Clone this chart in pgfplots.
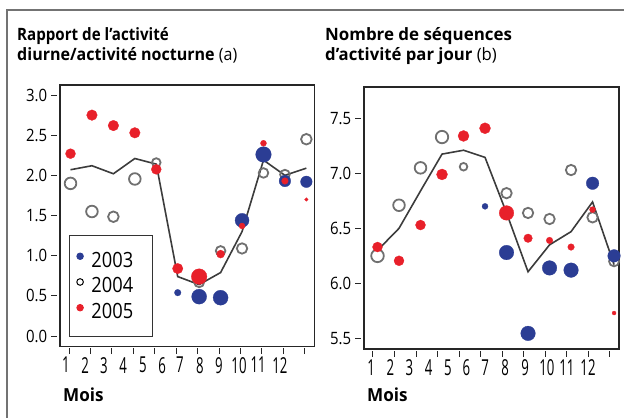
\documentclass[border=0pt]{standalone}
\usepackage{fontspec}
\setmainfont[FakeStretch=0.95]{Open Sans}
\newfontfamily\ttlA[FakeStretch=0.89]{Open Sans}
\newfontfamily\ttlB[FakeStretch=0.944]{Open Sans}
\newfontfamily\ttlC[FakeStretch=0.995]{Open Sans}
\newfontfamily\ttlD[FakeStretch=0.983]{Open Sans}
\newfontfamily\tickfont[FakeStretch=0.88]{Open Sans}
\newfontfamily\xfont[FakeStretch=0.6]{Open Sans}
\newfontfamily\legfont[FakeStretch=0.87]{Open Sans}
\usepackage{pgfplots}
\usepackage{pgfplotstable}
\pgfplotsset{compat=1.18}

\definecolor{cblue}{HTML}{2B3D94}
\definecolor{cred}{HTML}{E8202A}
\definecolor{cring}{HTML}{707070}
\definecolor{cline}{HTML}{3C3C3C}

\newcommand\legtxt[1]{\legfont\fontsize{21bp}{21bp}\selectfont\makebox[54bp][l]{#1}}

% (a) rapport diurne / nocturne
\pgfplotstableread{
x y s
6 0.54 3.3
7 0.49 7.5
8 0.477 7.5
9 1.44 7
10 2.26 7.8
11 1.93 5.8
12 1.92 5.8
}\atrois
\pgfplotstableread{
x y s
1 1.90 5.8
2 1.55 5.8
3 1.485 5.3
4 1.955 5.8
5 2.16 4.3
7 0.67 5
8 1.06 4.8
9 1.09 5.2
10 2.03 4.8
11 2.01 4.8
12 2.45 5.3
}\aquatre
\pgfplotstableread{
x y s
1 2.27 5
2 2.75 5.3
3 2.62 5.3
4 2.53 5.3
5 2.075 5
6 0.84 5.2
7 0.74 7.8
8 1.02 4
9 1.37 3
10 2.40 3
11 1.93 3.3
12 1.70 1.8
}\acinq
\pgfplotstableread{
x y
1 2.07
2 2.12
3 2.02
4 2.21
5 2.14
6 0.74
7 0.64
8 0.79
9 1.30
10 2.19
11 2.00
12 2.09
}\amoy

% (b) sequences par jour
\pgfplotstableread{
x y s
6 6.70 3
7 6.28 7.3
8 5.545 7.3
9 6.14 7.3
10 6.12 7.3
11 6.91 6.3
12 6.25 6.3
}\btrois
\pgfplotstableread{
x y s
1 6.25 6.3
2 6.71 5.8
3 7.05 5.8
4 7.33 6.2
5 7.06 3.8
7 6.82 5.2
8 6.64 5.2
9 6.585 5.2
10 7.03 5.2
11 6.60 5.2
12 6.20 5
}\bquatre
\pgfplotstableread{
x y s
1 6.33 5
2 6.205 5
3 6.53 5
4 6.99 5.5
5 7.34 5.5
6 7.41 5.5
7 6.64 7.3
8 6.41 4.3
9 6.39 3.3
10 6.33 3.3
11 6.67 3
12 5.73 2
}\bcinq
\pgfplotstableread{
x y
1 6.30
2 6.50
3 6.84
4 7.175
5 7.21
6 7.145
7 6.64
8 6.105
9 6.35
10 6.47
11 6.74
12 6.17
}\bmoy

\pgfplotsset{
  panel/.style={
    scale only axis,
    anchor=south west,
    clip=false,
    axis line style={line width=1.1bp, black!85},
    tick align=outside,
    tick pos=left,
    major tick length=6bp,
    tick style={line width=1bp, black!85},
    ytick style={xshift=-3bp},
    xtick style={yshift=-1.5bp},
    xticklabels={},
    yticklabel style={font=\tickfont\fontsize{17bp}{17bp}\selectfont, xshift=-3.3bp},
    extra x tick style={major tick length=0pt,
      tick label style={font=\xfont\fontsize{22bp}{22bp}\selectfont, yshift=-7bp}},
    extra x tick labels={1,2,3,4,5,6,7,8,9,10,11,12},
  },
  bub/.style={scatter, only marks,
    visualization depends on={\thisrow{s}\as\perpointmarksize},
    scatter/@pre marker code/.code={\scope[mark size=\perpointmarksize bp]},
    scatter/@post marker code/.code={\endscope}},
  blue dots/.style={bub, mark=*, cblue, line width=0.3bp},
  open dots/.style={bub, mark=o, cring, line width=1.8bp},
  red dots/.style={bub, mark=*, cred, line width=0.3bp},
  moy/.style={cline, line width=1.6bp, no marks},
}

\begin{document}
\begin{tikzpicture}
\draw[black!55, line width=1.2bp] (7bp,-418bp) -- (7bp,-10bp) -- (624bp,-10bp);

\node[anchor=base west, inner sep=0pt, font=\ttlA\fontsize{17bp}{20bp}\selectfont\bfseries] at (17bp,-40bp) {Rapport de l’activité};
\node[anchor=base west, inner sep=0pt, font=\ttlB\fontsize{17bp}{20bp}\selectfont] at (17bp,-60bp) {\textbf{diurne/activité nocturne} (a)};
\node[anchor=base west, inner sep=0pt, font=\ttlC\fontsize{17bp}{20bp}\selectfont\bfseries] at (325bp,-40bp) {Nombre de séquences};
\node[anchor=base west, inner sep=0pt, font=\ttlD\fontsize{17bp}{20bp}\selectfont] at (325bp,-60bp) {\textbf{d’activité par jour} (b)};
\node[anchor=base west, inner sep=0pt, font=\fontsize{18bp}{20bp}\selectfont\bfseries] at (63bp,-401bp) {Mois};
\node[anchor=base west, inner sep=0pt, font=\fontsize{18bp}{20bp}\selectfont\bfseries] at (367bp,-401bp) {Mois};

\begin{axis}[panel,
  at={(60bp,-346.7bp)}, width=254.3bp, height=261.7bp,
  xmin=0.51, xmax=12.37, ymin=-0.133, ymax=3.125,
  xtick={0.93,1.93,2.93,3.93,4.93,5.93,6.93,7.93,8.93,9.93,10.93,11.93},
  extra x ticks={0.79,1.68,2.56,3.45,4.38,5.27,6.10,7.04,7.92,8.86,9.75,10.77},
  ytick={0,0.5,1,1.5,2,2.5,3},
  yticklabels={0.0,0.5,1.0,1.5,2.0,2.5,3.0},
  legend style={at={(0.035,0.038)}, anchor=south west, draw=black!80,
    line width=0.8bp, inner xsep=7bp, inner ysep=16.3bp,
    nodes={inner sep=0pt}, row sep=9bp,
    /tikz/every odd column/.append style={column sep=7.5bp}},
  legend cell align=left,
]
\addplot[open dots, forget plot] table[x=x,y=y] {\aquatre};
\addplot[blue dots, forget plot] table[x=x,y=y] {\atrois};
\addplot[red dots, forget plot] table[x=x,y=y] {\acinq};
\addplot[moy, forget plot] table[x=x,y=y] {\amoy};
\addlegendimage{legend image code/.code={\fill[cblue] (3bp,4bp) circle (3.3bp);}}
\addlegendimage{legend image code/.code={\draw[black, line width=1bp] (3bp,4bp) circle (3.3bp);}}
\addlegendimage{legend image code/.code={\fill[cred] (3bp,4bp) circle (3.3bp);}}
\legend{\legtxt{2003},\legtxt{2004},\legtxt{2005}}
\end{axis}

\begin{axis}[panel,
  at={(364bp,-349bp)}, width=255bp, height=262bp,
  xmin=0.372, xmax=12.23, ymin=5.403, ymax=7.785,
  xtick={0.79,1.79,2.79,3.79,4.79,5.79,6.79,7.79,8.79,9.79,10.79,11.79},
  extra x ticks={0.71,1.60,2.48,3.38,4.27,5.13,6.01,6.94,7.87,8.88,9.81,10.79},
  ytick={5.5,6,6.5,7,7.5},
  yticklabels={5.5,6.0,6.5,7.0,7.5},
]
\addplot[open dots] table[x=x,y=y] {\bquatre};
\addplot[blue dots] table[x=x,y=y] {\btrois};
\addplot[red dots] table[x=x,y=y] {\bcinq};
\addplot[moy] table[x=x,y=y] {\bmoy};
\end{axis}
\pgfresetboundingbox
\path[use as bounding box] (0bp,0bp) rectangle (624bp,-418bp);
\end{tikzpicture}
\end{document}
